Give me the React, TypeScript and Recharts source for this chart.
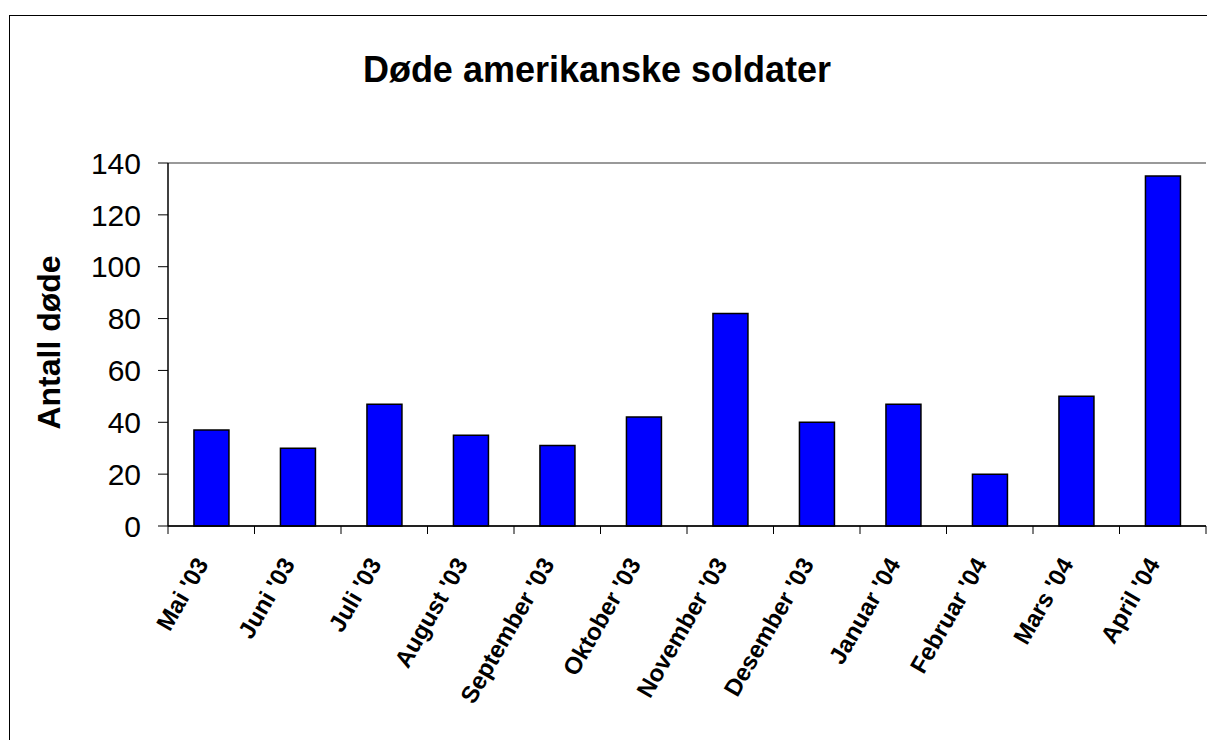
import React from "react";
import {
  BarChart,
  Bar,
  XAxis,
  YAxis,
  CartesianGrid,
  ReferenceLine,
  Label,
} from "recharts";

const months = [
  "Mai '03",
  "Juni '03",
  "Juli '03",
  "August '03",
  "September '03",
  "Oktober '03",
  "November '03",
  "Desember '03",
  "Januar '04",
  "Februar '04",
  "Mars '04",
  "April '04",
];
const deaths = [37, 30, 47, 35, 31, 42, 82, 40, 47, 20, 50, 135];
const yTicks = [0, 20, 40, 60, 80, 100, 120, 140];

const data = months.map((m, i) => ({ name: m, deaths: deaths[i] }));

const FONT = "'Liberation Sans', Arial, Helvetica, sans-serif";
const W = 1207;
const H = 732;
const X_H = 30;
const MARGIN = { top: 155, right: 9, bottom: 214 - X_H, left: 0 };
const Y_W = 160;
const BAND = (W - MARGIN.right - MARGIN.left - Y_W) / months.length;

const MonthTick = (props: any) => {
  const { x, y, payload, index } = props;
  const left = x - BAND / 2;
  return (
    <g>
      <line x1={left} y1={y} x2={left} y2={y + 8} stroke="#000" strokeWidth={1} />
      {index === months.length - 1 && (
        <line x1={left + BAND} y1={y} x2={left + BAND} y2={y + 8} stroke="#000" strokeWidth={1} />
      )}
      <text
        transform={`translate(${x - 2},${y + 38}) rotate(-60)`}
        textAnchor="end"
        fontFamily={FONT}
        fontWeight="bold"
        fontSize={24}
        fill="#000"
      >
        {payload.value}
      </text>
    </g>
  );
};

export default function App() {
  return (
    <div style={{ position: "relative", width: W, height: H, overflow: "hidden", background: "#fff" }}>
      <div
        style={{
          position: "absolute",
          left: 1,
          top: 7,
          width: 1400,
          height: 900,
          border: "1.5px solid #000",
        }}
      />
      <div
        style={{
          position: "absolute",
          left: 0,
          top: 40,
          width: 1178,
          textAlign: "center",
          fontFamily: FONT,
          fontWeight: "bold",
          fontSize: 36,
          lineHeight: "44px",
          color: "#000",
        }}
      >
        Døde amerikanske soldater
      </div>
      <div style={{ position: "absolute", left: 0, top: 0 }}>
        <BarChart width={W} height={H} data={data} margin={MARGIN} barCategoryGap="30%">
          <CartesianGrid horizontal={true} vertical={false} stroke="#111" strokeWidth={1} />
          <XAxis
            dataKey="name"
            height={X_H}
            interval={0}
            axisLine={{ stroke: "#000", strokeWidth: 1.5 }}
            tickLine={false}
            tickSize={0}
            tickMargin={0}
            tick={<MonthTick />}
          />
          <YAxis
            yAxisId="left"
            width={Y_W}
            domain={[0, 140]}
            ticks={yTicks}
            interval={0}
            axisLine={{ stroke: "#000", strokeWidth: 1.5 }}
            tickLine={{ stroke: "#000" }}
            tickSize={10}
            tickMargin={17}
            tick={{ fill: "#000", fontSize: 30, fontFamily: FONT }}
          >
            <Label
              content={(p: any) => {
                const vb = p.viewBox;
                const cx = 41;
                const cy = vb.y + vb.height / 2 - 2;
                return (
                  <text
                    x={cx}
                    y={cy}
                    transform={`rotate(-90, ${cx}, ${cy})`}
                    textAnchor="middle"
                    dominantBaseline="central"
                    fontFamily={FONT}
                    fontWeight="bold"
                    fontSize={32}
                    fill="#000"
                  >
                    Antall døde
                  </text>
                );
              }}
            />
          </YAxis>
          <YAxis
            yAxisId="right"
            orientation="right"
            width={0}
            domain={[0, 140]}
            tick={false}
            tickLine={false}
            axisLine={{ stroke: "#999", strokeWidth: 2 }}
          />
          <ReferenceLine yAxisId="left" y={140} stroke="#999" strokeWidth={2} />
          <Bar
            yAxisId="left"
            dataKey="deaths"
            fill="#0000FF"
            stroke="#000"
            strokeWidth={1.5}
            isAnimationActive={false}
          />
        </BarChart>
      </div>
    </div>
  );
}
